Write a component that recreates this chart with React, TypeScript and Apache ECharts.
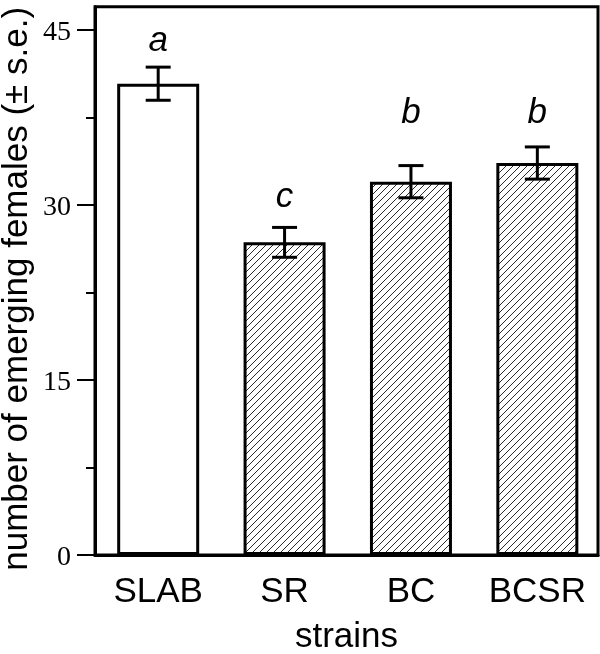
import React, { useEffect, useRef } from "react";
import * as echarts from "echarts";

const categories = ["SLAB", "SR", "BC", "BCSR"];
const means = [40.4, 26.8, 32.0, 33.6];
const stdErrors = [1.42, 1.28, 1.38, 1.38];
const letters = ["a", "c", "b", "b"];
const letterValues = [44.3, 30.9, 38.1, 38.1];
const hatched = [false, true, true, true];
const majorTicks = [0, 15, 30, 45];
const minorTicks = [7.5, 22.5, 37.5];

function makeHatch(): HTMLCanvasElement {
  const s = 7;
  const c = document.createElement("canvas");
  c.width = s;
  c.height = s;
  const ctx = c.getContext("2d")!;
  ctx.fillStyle = "#ffffff";
  ctx.fillRect(0, 0, s, s);
  ctx.strokeStyle = "#2a2a2a";
  ctx.lineWidth = 1;
  ctx.beginPath();
  ctx.moveTo(-1, s + 1);
  ctx.lineTo(s + 1, -1);
  ctx.moveTo(-1, 1);
  ctx.lineTo(1, -1);
  ctx.moveTo(s - 1, s + 1);
  ctx.lineTo(s + 1, s - 1);
  ctx.stroke();
  return c;
}

export default function App() {
  const ref = useRef<HTMLDivElement>(null);
  useEffect(() => {
    if (!ref.current) return;
    const chart = echarts.init(ref.current, undefined, { renderer: "svg" });
    const hatch = makeHatch();
    const sans = "Liberation Sans";
    const serif = "Liberation Serif";
    chart.setOption({
      animation: false,
      grid: {
        left: 95,
        right: 2,
        top: 6.7,
        bottom: 99,
        show: true,
        borderColor: "#000",
        borderWidth: 3,
        outerBoundsMode: "none",
        containLabel: false,
      },
      xAxis: {
        type: "value",
        min: -0.5,
        max: 3.48,
        splitLine: { show: false },
        axisLine: { show: true, onZero: false, lineStyle: { color: "#000", width: 3 } },
        axisTick: { show: false },
        axisLabel: {
          customValues: [0, 1, 2, 3],
          formatter: (v: number) => categories[Math.round(v)] ?? "",
          color: "#000",
          fontFamily: sans,
          fontSize: 35,
          margin: 17,
        },
        name: "strains",
        nameLocation: "middle",
        nameGap: 62,
        nameTextStyle: { color: "#000", fontFamily: sans, fontSize: 35 },
      },
      yAxis: [
        {
          type: "value",
          min: 0,
          max: 47,
          position: "left",
          splitLine: { show: false },
          axisLine: { show: true, onZero: false, lineStyle: { color: "#000", width: 3 } },
          axisTick: {
            show: true,
            customValues: majorTicks,
            length: 18,
            lineStyle: { color: "#000", width: 2 },
          },
          axisLabel: {
            customValues: majorTicks,
            color: "#000",
            fontFamily: serif,
            fontSize: 28,
            margin: 24,
          },
          name: "number of emerging females (± s.e.)",
          nameLocation: "middle",
          nameGap: 65.5,
          nameTextStyle: {
            color: "#000",
            fontFamily: sans,
            fontSize: 35,
            lineHeight: 28,
            padding: [0, 16, 0, 0],
          },
        },
        {
          type: "value",
          min: 0,
          max: 47,
          position: "left",
          splitLine: { show: false },
          axisLine: { show: false, onZero: false },
          axisLabel: { show: false },
          axisTick: {
            show: true,
            customValues: minorTicks,
            length: 9,
            lineStyle: { color: "#000", width: 2 },
          },
        },
      ],
      series: [
        {
          type: "bar",
          barWidth: 82,
          data: means.map((m, i) => ({
            value: [i, m],
            itemStyle: {
              color: hatched[i] ? { image: hatch, repeat: "repeat" } : "#fff",
              borderColor: "#000",
              borderWidth: 3,
            },
          })),
        },
        {
          type: "custom",
          z: 5,
          data: means.map((m, i) => [i, m - stdErrors[i], m + stdErrors[i]]),
          renderItem: (params: any, api: any) => {
            const x = api.value(0);
            const lo = api.coord([x, api.value(1)]);
            const hi = api.coord([x, api.value(2)]);
            const hw = 12.5;
            const style = { stroke: "#000", lineWidth: 3, fill: "none" };
            return {
              type: "group",
              children: [
                { type: "line", shape: { x1: lo[0], y1: lo[1], x2: hi[0], y2: hi[1] }, style },
                { type: "line", shape: { x1: hi[0] - hw, y1: hi[1], x2: hi[0] + hw, y2: hi[1] }, style },
                { type: "line", shape: { x1: lo[0] - hw, y1: lo[1], x2: lo[0] + hw, y2: lo[1] }, style },
              ],
            };
          },
        },
        {
          type: "custom",
          z: 6,
          data: letterValues.map((v, i) => [i, v]),
          renderItem: (params: any, api: any) => {
            const p = api.coord([api.value(0), api.value(1)]);
            return {
              type: "text",
              x: p[0],
              y: p[1],
              style: {
                text: letters[params.dataIndex],
                fill: "#000",
                font: `italic 35px "${sans}"`,
                align: "center",
                verticalAlign: "middle",
              },
            };
          },
        },
      ],
    });
    return () => chart.dispose();
  }, []);
  return (
    <div
      ref={ref}
      style={{ position: "fixed", left: 0, top: 0, width: 600, height: 654 }}
    />
  );
}
